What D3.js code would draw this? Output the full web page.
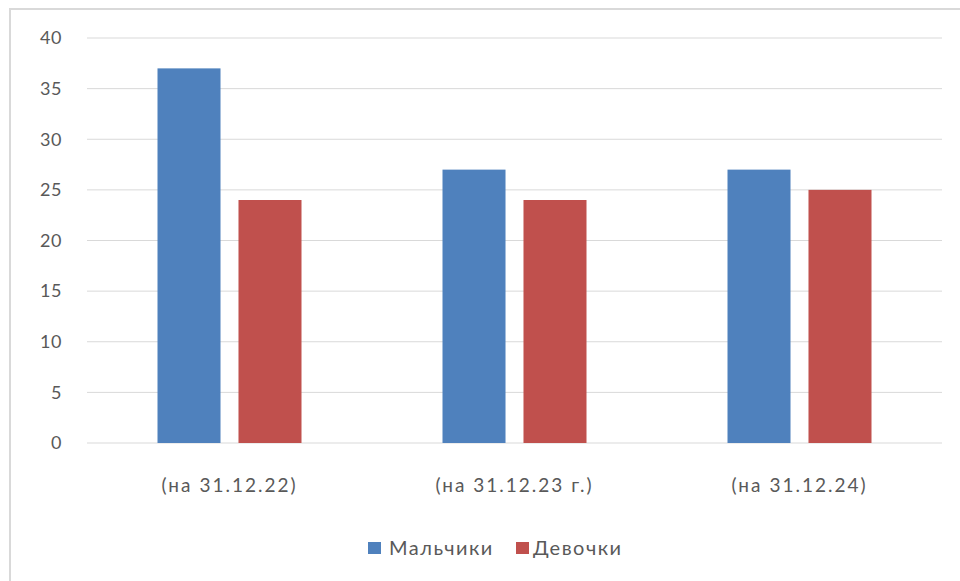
<!DOCTYPE html>
<html>
<head>
<meta charset="utf-8">
<script src="https://cdn.jsdelivr.net/npm/d3@7"></script>
<style>
  body { margin: 0; background: #fff; }
  text { font-family: Lato, "Open Sans", sans-serif; fill: #595959; }
</style>
</head>
<body>
<div id="chart"></div>
<script>
const categories = ["(на 31.12.22)", "(на 31.12.23 г.)", "(на 31.12.24)"];
const seriesNames = ["Мальчики", "Девочки"];
const boys = [37, 27, 27];
const girls = [24, 24, 25];
const yTicks = [0, 5, 10, 15, 20, 25, 30, 35, 40];
const colors = ["#4F81BD", "#C0504D"];

const width = 960, height = 581;
const margin = { top: 38, right: 18, bottom: 138, left: 87 };
const innerW = width - margin.left - margin.right;
const innerH = height - margin.top - margin.bottom;

const svg = d3.select("#chart").append("svg")
  .attr("width", width)
  .attr("height", height);

// chart frame
svg.append("rect")
  .attr("x", 10).attr("y", 9)
  .attr("width", width + 20).attr("height", height + 20)
  .attr("fill", "none")
  .attr("stroke", "#d9d9d9")
  .attr("stroke-width", 2);

const g = svg.append("g").attr("transform", `translate(${margin.left},${margin.top})`);

const x = d3.scaleBand().domain(categories).range([0, innerW]);
const y = d3.scaleLinear().domain([0, 40]).range([innerH, 0]);
const x1 = d3.scaleBand().domain(seriesNames).range([0, 144]).paddingInner(0.222);

g.selectAll("line.grid")
  .data(yTicks)
  .enter().append("line")
  .attr("class", "grid")
  .attr("x1", 0).attr("x2", innerW)
  .attr("y1", d => y(d)).attr("y2", d => y(d))
  .attr("stroke", "#d9d9d9")
  .attr("stroke-width", 1);

g.selectAll("text.ytick")
  .data(yTicks)
  .enter().append("text")
  .attr("class", "ytick")
  .attr("x", -25)
  .attr("y", d => y(d))
  .attr("dy", "0.35em")
  .attr("text-anchor", "end")
  .attr("font-size", 18)
  .attr("letter-spacing", 0.5)
  .text(d => d);

const rows = categories.map((c, i) => ({ cat: c, values: [boys[i], girls[i]] }));

const groups = g.selectAll("g.cat")
  .data(rows)
  .enter().append("g")
  .attr("class", "cat")
  .attr("transform", d => `translate(${x(d.cat) + x.bandwidth() / 2 - 72},0)`);

groups.selectAll("rect")
  .data(d => d.values.map((v, j) => ({ name: seriesNames[j], value: v, color: colors[j] })))
  .enter().append("rect")
  .attr("x", d => x1(d.name))
  .attr("width", x1.bandwidth())
  .attr("y", d => y(d.value))
  .attr("height", d => innerH - y(d.value))
  .attr("fill", d => d.color);

g.selectAll("text.xlab")
  .data(categories)
  .enter().append("text")
  .attr("class", "xlab")
  .attr("x", d => x(d) + x.bandwidth() / 2)
  .attr("y", innerH + 49)
  .attr("text-anchor", "middle")
  .attr("font-size", 19)
  .attr("letter-spacing", 2)
  .text(d => d);

// legend
const legend = svg.append("g").attr("transform", "translate(368,542)");
const items = [
  { name: seriesNames[0], color: colors[0], dx: 0, tx: 21 },
  { name: seriesNames[1], color: colors[1], dx: 148, tx: 165 }
];
items.forEach(it => {
  legend.append("rect")
    .attr("x", it.dx).attr("y", 0)
    .attr("width", 13).attr("height", 12)
    .attr("fill", it.color);
  legend.append("text")
    .attr("x", it.tx).attr("y", 13)
    .attr("font-size", 20)
    .attr("letter-spacing", 1.5)
    .text(it.name);
});
</script>
</body>
</html>
